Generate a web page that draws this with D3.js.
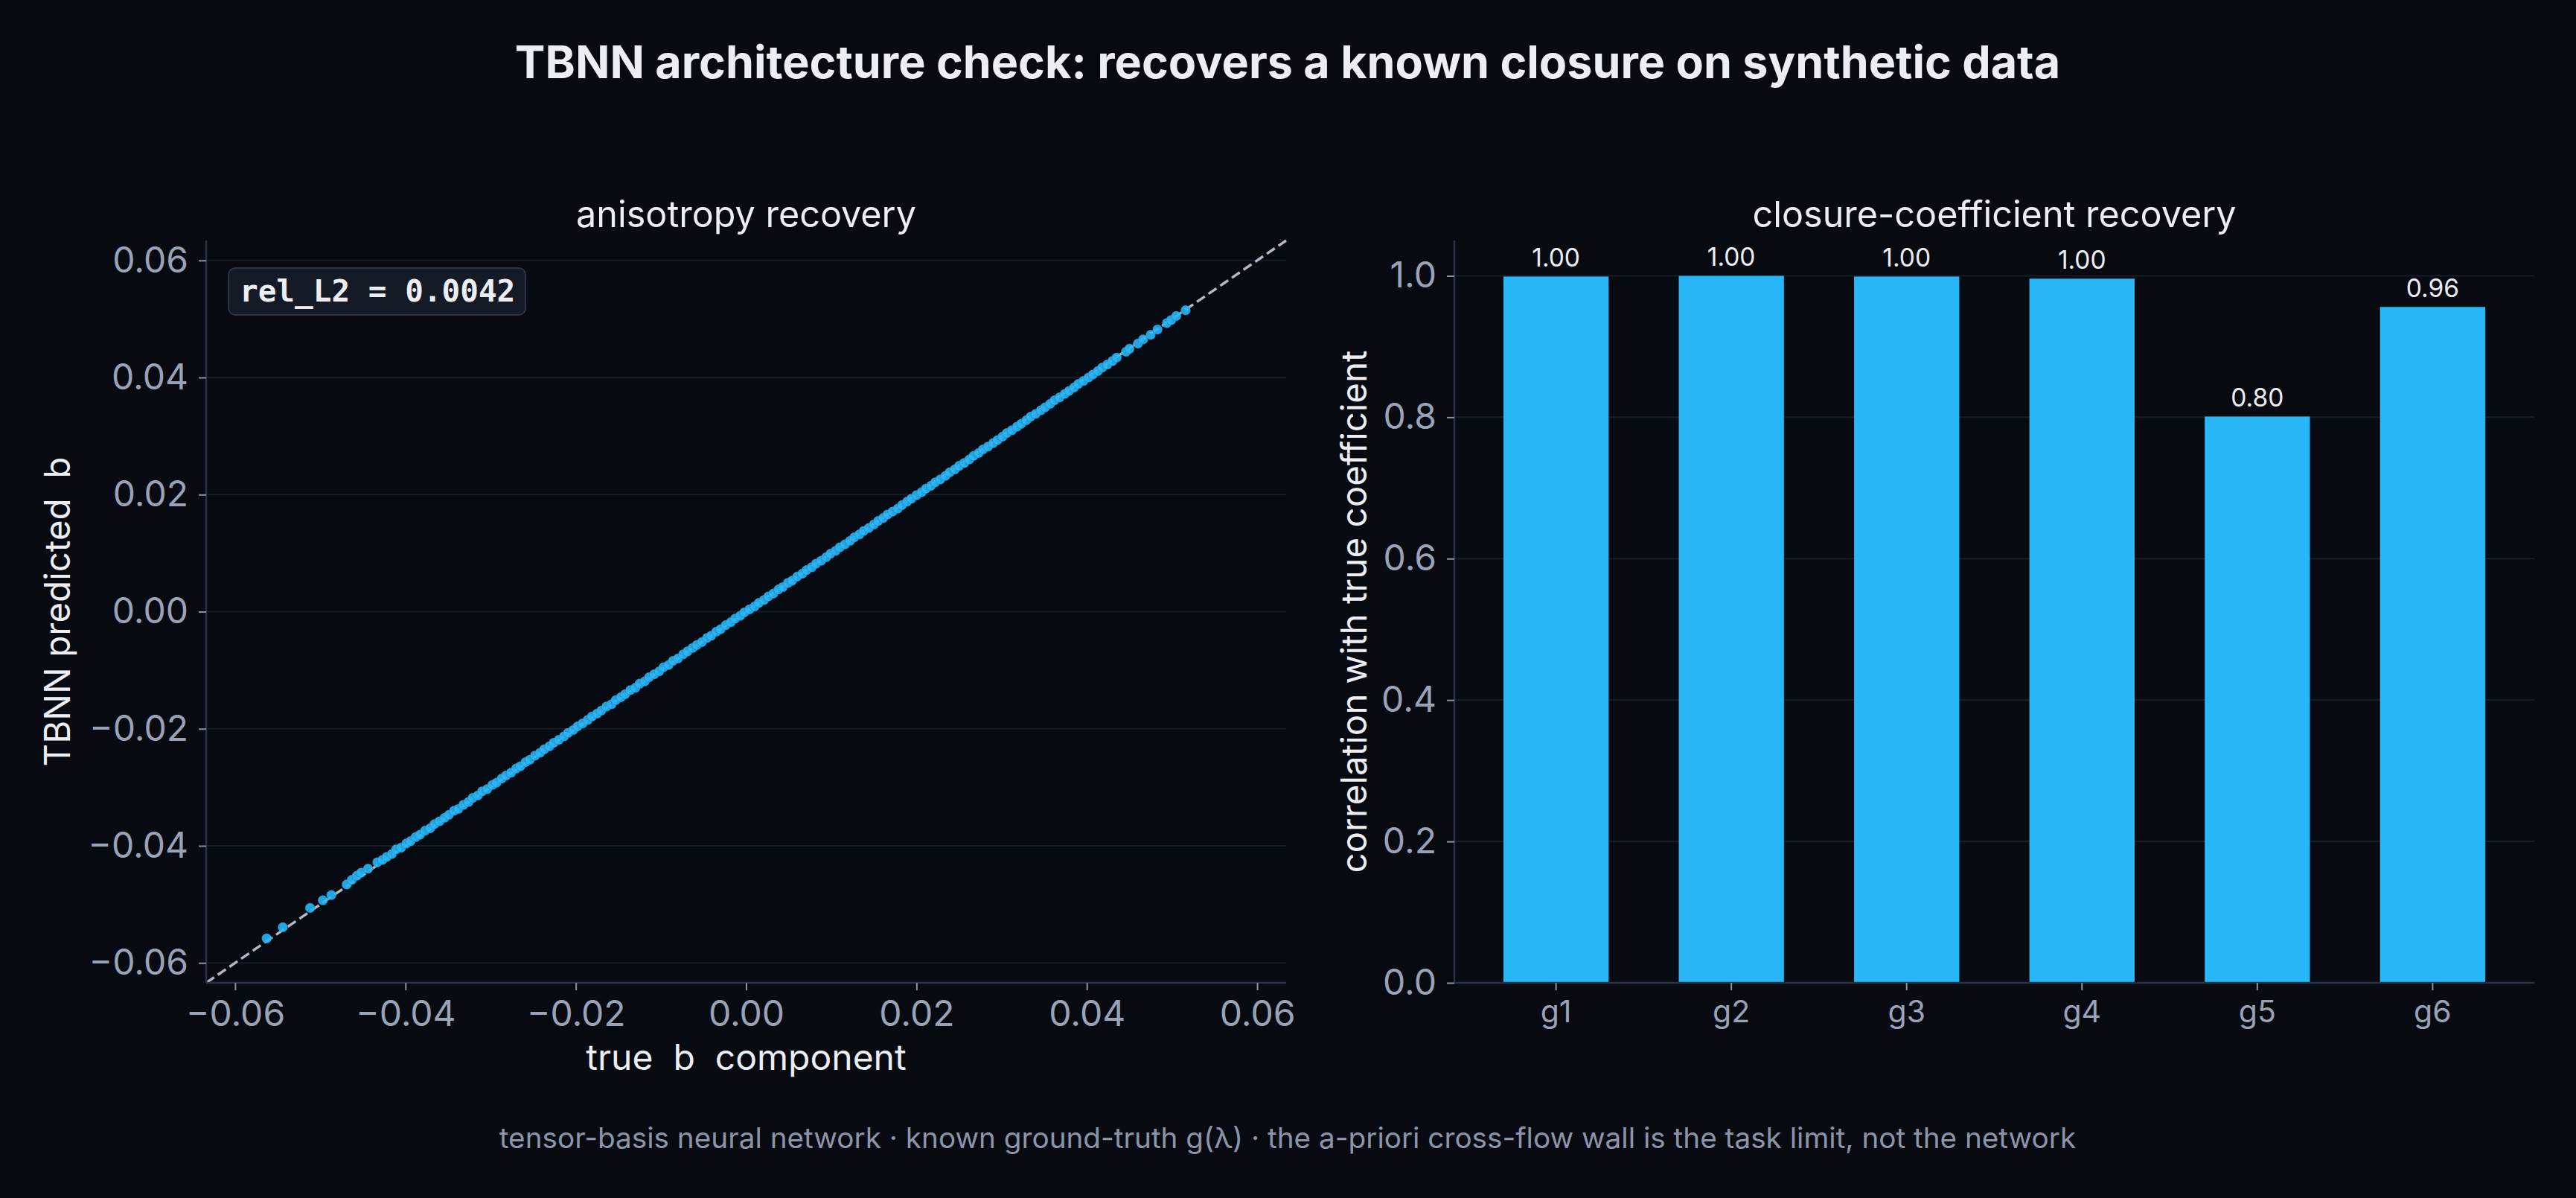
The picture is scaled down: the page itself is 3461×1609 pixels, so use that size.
<!DOCTYPE html>
<html>
<head>
<meta charset="utf-8">
<script src="https://cdn.jsdelivr.net/npm/d3@7"></script>
<style>
  html, body { margin: 0; padding: 0; background: #070a10; }
  svg { display: block; font-family: Inter, "Noto Sans", sans-serif; }
</style>
</head>
<body>
<svg id="chart" width="3461" height="1609"></svg>
<script>
// ---------------- data ----------------
const chartTitle = "TBNN architecture check: recovers a known closure on synthetic data";
const footerText = "tensor-basis neural network · known ground-truth g(λ) · the a-priori cross-flow wall is the task limit, not the network";
const leftTitle = "anisotropy recovery";
const rightTitle = "closure-coefficient recovery";
const leftXLabel = "true  b  component";
const leftYLabel = "TBNN predicted  b";
const rightYLabel = "correlation with true coefficient";
const relL2Text = "rel_L2 = 0.0042";

const axisLim = [-0.0634, 0.0634];
const leftTicks = [-0.06, -0.04, -0.02, 0.00, 0.02, 0.04, 0.06];

// [true b, predicted b]
const points = [
  [-0.0563,-0.0558],[-0.0544,-0.0539],[-0.0512,-0.0506],[-0.0497,-0.0493],[-0.0487,-0.0484],
  [-0.0469,-0.0466],[-0.0463,-0.0458],[-0.0457,-0.0451],[-0.0452,-0.0446],[-0.0444,-0.0439],
  [-0.0433,-0.0428],[-0.0427,-0.0424],[-0.0422,-0.0419],[-0.0416,-0.0414],[-0.0411,-0.0406],
  [-0.0405,-0.0403],[-0.0399,-0.0396],[-0.0394,-0.0392],[-0.0388,-0.0385],[-0.0383,-0.0381],
  [-0.0377,-0.0374],[-0.0371,-0.0370],[-0.0366,-0.0363],[-0.0360,-0.0358],[-0.0354,-0.0352],
  [-0.0349,-0.0347],[-0.0343,-0.0340],[-0.0338,-0.0337],[-0.0332,-0.0330],[-0.0326,-0.0325],
  [-0.0321,-0.0318],[-0.0315,-0.0314],[-0.0310,-0.0307],[-0.0304,-0.0303],[-0.0298,-0.0296],
  [-0.0293,-0.0292],[-0.0287,-0.0285],[-0.0282,-0.0280],[-0.0276,-0.0275],[-0.0270,-0.0268],
  [-0.0265,-0.0264],[-0.0259,-0.0257],[-0.0254,-0.0253],[-0.0248,-0.0246],[-0.0242,-0.0241],
  [-0.0237,-0.0235],[-0.0231,-0.0230],[-0.0226,-0.0224],[-0.0220,-0.0219],[-0.0214,-0.0213],
  [-0.0209,-0.0207],[-0.0203,-0.0202],[-0.0198,-0.0196],[-0.0192,-0.0191],[-0.0186,-0.0185],
  [-0.0181,-0.0179],[-0.0175,-0.0174],[-0.0170,-0.0169],[-0.0164,-0.0162],[-0.0158,-0.0158],
  [-0.0153,-0.0151],[-0.0147,-0.0146],[-0.0142,-0.0141],[-0.0136,-0.0134],[-0.0130,-0.0130],
  [-0.0125,-0.0123],[-0.0119,-0.0119],[-0.0114,-0.0112],[-0.0108,-0.0107],[-0.0102,-0.0102],
  [-0.0097,-0.0095],[-0.0091,-0.0091],[-0.0086,-0.0084],[-0.0080,-0.0080],[-0.0074,-0.0073],
  [-0.0069,-0.0068],[-0.0063,-0.0062],[-0.0058,-0.0057],[-0.0052,-0.0052],[-0.0046,-0.0045],
  [-0.0041,-0.0041],[-0.0035,-0.0034],[-0.0030,-0.0030],[-0.0024,-0.0023],[-0.0018,-0.0018],
  [-0.0013,-0.0012],[-0.0007,-0.0007],[-0.0002,-0.0001],[0.0004,0.0004],[0.0010,0.0009],
  [0.0015,0.0015],[0.0021,0.0020],[0.0026,0.0026],[0.0032,0.0031],[0.0038,0.0038],
  [0.0043,0.0042],[0.0049,0.0049],[0.0054,0.0053],[0.0060,0.0060],[0.0066,0.0065],
  [0.0071,0.0071],[0.0077,0.0076],[0.0082,0.0082],[0.0088,0.0087],[0.0094,0.0093],
  [0.0099,0.0099],[0.0105,0.0104],[0.0110,0.0110],[0.0116,0.0115],[0.0122,0.0121],
  [0.0127,0.0127],[0.0133,0.0132],[0.0138,0.0138],[0.0144,0.0143],[0.0150,0.0149],
  [0.0155,0.0155],[0.0161,0.0160],[0.0166,0.0166],[0.0172,0.0171],[0.0178,0.0176],
  [0.0183,0.0182],[0.0189,0.0188],[0.0194,0.0193],[0.0200,0.0199],[0.0206,0.0204],
  [0.0211,0.0210],[0.0217,0.0215],[0.0222,0.0221],[0.0228,0.0226],[0.0234,0.0232],
  [0.0239,0.0238],[0.0245,0.0243],[0.0250,0.0249],[0.0256,0.0254],[0.0262,0.0260],
  [0.0267,0.0266],[0.0273,0.0271],[0.0278,0.0277],[0.0284,0.0282],[0.0290,0.0288],
  [0.0295,0.0293],[0.0301,0.0299],[0.0306,0.0305],[0.0312,0.0310],[0.0318,0.0316],
  [0.0323,0.0321],[0.0329,0.0327],[0.0334,0.0333],[0.0340,0.0338],[0.0346,0.0344],
  [0.0351,0.0349],[0.0357,0.0355],[0.0362,0.0361],[0.0368,0.0366],[0.0374,0.0372],
  [0.0379,0.0377],[0.0385,0.0383],[0.0390,0.0389],[0.0396,0.0394],[0.0402,0.0400],
  [0.0407,0.0405],[0.0413,0.0411],[0.0418,0.0417],[0.0424,0.0422],[0.0430,0.0428],
  [0.0435,0.0434],[0.0446,0.0444],[0.0450,0.0449],[0.0460,0.0458],[0.0466,0.0465],
  [0.0475,0.0473],[0.0483,0.0482],[0.0494,0.0493],[0.0499,0.0498],[0.0505,0.0505],
  [0.0516,0.0515]
];

const coefNames = ["g1", "g2", "g3", "g4", "g5", "g6"];
const coefCorr = [0.999, 1.000, 0.999, 0.996, 0.801, 0.956];
const rightYDomain = [0, 1.05];
const rightTicks = [0.0, 0.2, 0.4, 0.6, 0.8, 1.0];

// ---------------- style ----------------
const C = {
  bg: "#070a10",
  grid: "#171c27",
  spine: "#2a3142",
  tick: "#8a93a6",
  tickText: "#9aa3b6",
  text: "#eceef4",
  sub: "#8c95a8",
  blue: "#29b6f6",
  diag: "#b3bac7",
  boxFill: "#141a26",
  boxStroke: "#2b3345"
};
const SANS = "Inter, 'Noto Sans', sans-serif";
const MONO = "'DejaVu Sans Mono', 'Liberation Mono', monospace";

const svg = d3.select("#chart");
svg.append("rect").attr("width", 3461).attr("height", 1609).attr("fill", C.bg);

// title
svg.append("text").attr("x", 1730).attr("y", 105).attr("text-anchor", "middle")
  .style("font-family", SANS).attr("font-size", 61).attr("font-weight", 700)
  .attr("fill", C.text).text(chartTitle);

// footer
svg.append("text").attr("x", 1730).attr("y", 1542).attr("text-anchor", "middle")
  .style("font-family", SANS).attr("font-size", 38.7).attr("fill", C.sub).text(footerText);

// ---------------- left panel ----------------
const L = { x0: 277, x1: 1728, y0: 323, y1: 1320 };
const xL = d3.scaleLinear().domain(axisLim).range([L.x0, L.x1]);
const yL = d3.scaleLinear().domain(axisLim).range([L.y1, L.y0]);

const gL = svg.append("g");
gL.append("g").selectAll("line").data(leftTicks).join("line")
  .attr("x1", L.x0).attr("x2", L.x1)
  .attr("y1", d => yL(d)).attr("y2", d => yL(d))
  .attr("stroke", C.grid).attr("stroke-width", 2.2);

// diagonal y = x
gL.append("line")
  .attr("x1", xL(axisLim[0])).attr("y1", yL(axisLim[0]))
  .attr("x2", xL(axisLim[1])).attr("y2", yL(axisLim[1]))
  .attr("stroke", C.diag).attr("stroke-width", 3.4)
  .attr("stroke-dasharray", "13,6");

// scatter
gL.append("g").selectAll("circle").data(points).join("circle")
  .attr("cx", d => xL(d[0])).attr("cy", d => yL(d[1])).attr("r", 6.6)
  .attr("fill", C.blue).attr("fill-opacity", 0.9)
  .attr("stroke", "#14324a").attr("stroke-opacity", 0.3).attr("stroke-width", 0.8);

// axes
const fmtL = d3.format(".2f");
const axXL = gL.append("g").attr("transform", `translate(0,${L.y1})`)
  .call(d3.axisBottom(xL).tickValues(leftTicks).tickFormat(fmtL).tickSize(10).tickPadding(14));
const axYL = gL.append("g").attr("transform", `translate(${L.x0},0)`)
  .call(d3.axisLeft(yL).tickValues(leftTicks).tickFormat(fmtL).tickSize(10).tickPadding(14));
[axXL, axYL].forEach(a => {
  a.select(".domain").attr("stroke", C.spine).attr("stroke-width", 2.4);
  a.selectAll(".tick line").attr("stroke", C.tick).attr("stroke-width", 2);
  a.selectAll(".tick text").attr("fill", C.tickText).attr("font-size", 48)
    .style("font-family", SANS);
});
axXL.select(".domain").attr("d", `M${L.x0},0H${L.x1}`);
axYL.select(".domain").attr("d", `M0,${L.y1}V${L.y0}`);
axXL.selectAll(".tick text").attr("dy", "0.71em");

// subplot title
gL.append("text").attr("x", (L.x0 + L.x1) / 2).attr("y", 305).attr("text-anchor", "middle")
  .style("font-family", SANS).attr("font-size", 48.5).attr("fill", C.text).text(leftTitle);
// axis labels
gL.append("text").attr("x", (L.x0 + L.x1) / 2).attr("y", 1437).attr("text-anchor", "middle")
  .style("font-family", SANS).attr("font-size", 48).attr("fill", C.text)
  .style("white-space", "pre").text(leftXLabel);
gL.append("text").attr("transform", `translate(94,${(L.y0 + L.y1) / 2}) rotate(-90)`)
  .attr("text-anchor", "middle").style("font-family", SANS).attr("font-size", 47.5)
  .attr("fill", C.text).style("white-space", "pre").text(leftYLabel);

// rel_L2 box
gL.append("rect").attr("x", 307).attr("y", 360).attr("width", 399).attr("height", 63)
  .attr("rx", 9).attr("fill", C.boxFill).attr("stroke", C.boxStroke).attr("stroke-width", 2);
gL.append("text").attr("x", 322).attr("y", 405)
  .style("font-family", MONO).attr("font-weight", 700)
  .attr("font-size", 41).attr("fill", C.text).style("white-space", "pre").text(relL2Text);

// ---------------- right panel ----------------
const R = { x0: 1954, x1: 3405, y0: 323, y1: 1320 };
const xR = d3.scaleBand().domain(coefNames).range([R.x0, R.x1])
  .paddingInner(0.4).paddingOuter(0.28);
const yR = d3.scaleLinear().domain(rightYDomain).range([R.y1, R.y0]);

const gR = svg.append("g");
gR.append("g").selectAll("line").data(rightTicks).join("line")
  .attr("x1", R.x0).attr("x2", R.x1)
  .attr("y1", d => yR(d)).attr("y2", d => yR(d))
  .attr("stroke", C.grid).attr("stroke-width", 2.2);

const bars = coefNames.map((n, i) => ({ name: n, v: coefCorr[i] }));
gR.append("g").selectAll("rect").data(bars).join("rect")
  .attr("x", d => xR(d.name)).attr("width", xR.bandwidth())
  .attr("y", d => yR(d.v)).attr("height", d => yR(0) - yR(d.v))
  .attr("fill", C.blue);

gR.append("g").selectAll("text").data(bars).join("text")
  .attr("x", d => xR(d.name) + xR.bandwidth() / 2).attr("y", d => yR(d.v) - 13)
  .attr("text-anchor", "middle").style("font-family", SANS).attr("font-size", 33.5)
  .attr("fill", C.text).text(d => d.v.toFixed(2));

const axXR = gR.append("g").attr("transform", `translate(0,${R.y1})`)
  .call(d3.axisBottom(xR).tickSize(10).tickPadding(14));
const axYR = gR.append("g").attr("transform", `translate(${R.x0},0)`)
  .call(d3.axisLeft(yR).tickValues(rightTicks).tickFormat(d3.format(".1f")).tickSize(10).tickPadding(14));
[axXR, axYR].forEach(a => {
  a.select(".domain").attr("stroke", C.spine).attr("stroke-width", 2.4);
  a.selectAll(".tick line").attr("stroke", C.tick).attr("stroke-width", 2);
  a.selectAll(".tick text").attr("fill", C.tickText).style("font-family", SANS);
});
axXR.select(".domain").attr("d", `M${R.x0},0H${R.x1}`);
axYR.select(".domain").attr("d", `M0,${R.y1}V${R.y0}`);
axXR.selectAll(".tick text").attr("font-size", 41).attr("dy", "0.71em");
axYR.selectAll(".tick text").attr("font-size", 48);

gR.append("text").attr("x", (R.x0 + R.x1) / 2).attr("y", 305).attr("text-anchor", "middle")
  .style("font-family", SANS).attr("font-size", 48.5).attr("fill", C.text).text(rightTitle);
gR.append("text").attr("transform", `translate(1836,${(R.y0 + R.y1) / 2}) rotate(-90)`)
  .attr("text-anchor", "middle").style("font-family", SANS).attr("font-size", 47.5)
  .attr("fill", C.text).text(rightYLabel);
</script>
</body>
</html>
